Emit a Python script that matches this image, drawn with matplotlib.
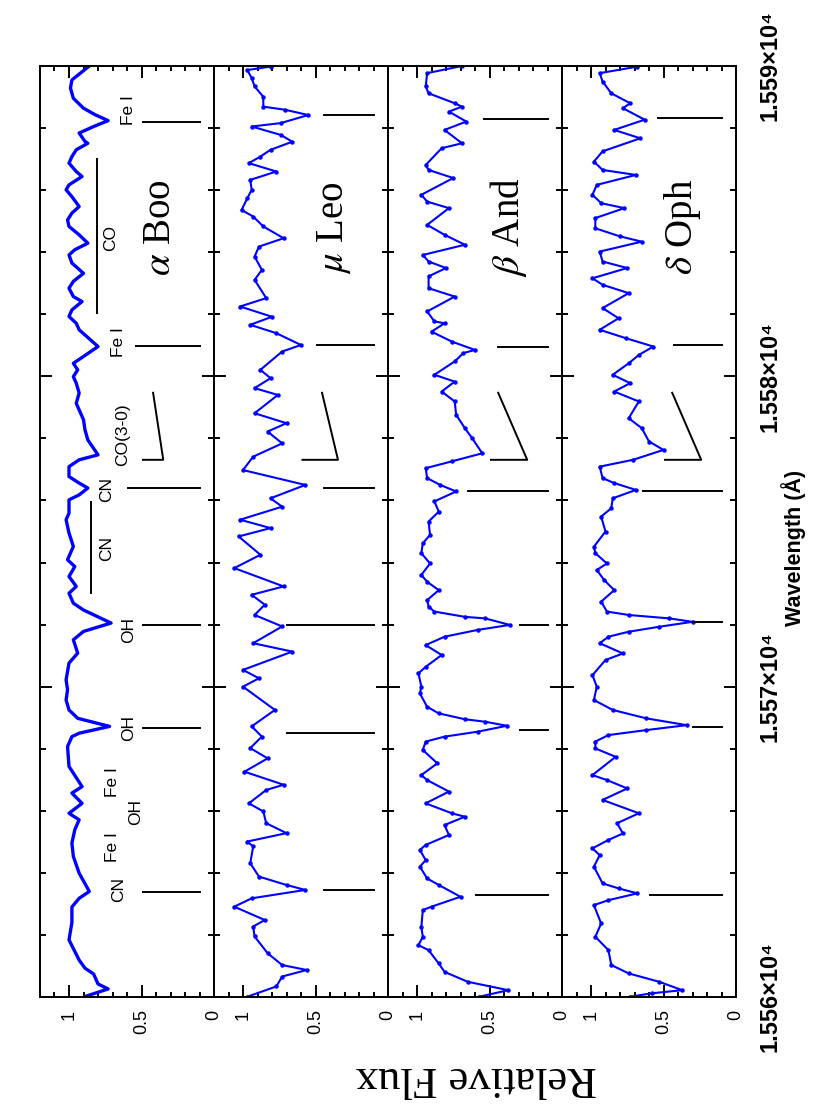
import numpy as np
import matplotlib
matplotlib.use("Agg")
import matplotlib.pyplot as plt
from matplotlib.ticker import MultipleLocator

plt.rcParams['font.family'] = ['Liberation Sans', 'DejaVu Sans']
plt.rcParams['mathtext.fontset'] = 'stix'

star_names = [r'$\alpha$ Boo', r'$\mu$ Leo', r'$\beta$ And', r'$\delta$ Oph']

# spectra (wavelength in Angstrom, relative flux)
boo_wl = [15590.00, 15589.55, 15589.29, 15588.96, 15588.64, 15588.43, 15588.24, 15588.05, 15587.84, 15587.57,
          15587.51, 15587.30, 15587.08, 15586.87, 15586.60, 15586.44, 15586.17, 15586.01, 15585.79, 15585.47,
          15585.26, 15585.04, 15584.83, 15584.56, 15584.29, 15584.08, 15583.91, 15583.65, 15583.32, 15583.06,
          15582.84, 15582.57, 15582.41, 15582.14, 15581.93, 15581.71, 15581.50, 15580.96, 15580.64, 15580.42,
          15580.21, 15579.99, 15579.78, 15579.46, 15579.13, 15578.92, 15578.60, 15578.28, 15577.95, 15577.47,
          15577.31, 15577.09, 15576.77, 15576.56, 15576.40, 15576.18, 15576.02, 15575.59, 15575.38, 15574.95,
          15574.52, 15574.09, 15573.87, 15573.55, 15573.23, 15573.01, 15572.69, 15572.47, 15572.05, 15571.78,
          15571.51, 15571.08, 15570.76, 15570.22, 15569.90, 15569.57, 15569.25, 15568.98, 15568.72, 15568.50,
          15568.39, 15568.07, 15567.43, 15566.78, 15566.57, 15566.24, 15565.92, 15565.71, 15565.39, 15564.96,
          15564.53, 15563.99, 15563.40, 15563.18, 15562.90, 15562.40, 15561.84, 15561.19, 15560.93, 15560.74,
          15560.42, 15560.26, 15560.03]
boo_flux = [0.86, 0.98, 0.99, 0.97, 0.90, 0.82, 0.73, 0.83, 0.93, 0.89,
            0.87, 0.95, 0.98, 1.00, 0.95, 0.91, 1.00, 1.02, 0.98, 0.93,
            0.98, 1.01, 1.00, 0.93, 0.87, 0.96, 1.00, 0.98, 0.90, 0.97,
            1.00, 0.97, 0.91, 0.98, 1.00, 0.95, 0.93, 0.80, 0.90, 0.97,
            0.94, 0.97, 0.95, 0.93, 0.95, 0.93, 0.90, 0.89, 0.87, 0.80,
            0.93, 1.00, 1.00, 0.93, 0.87, 0.93, 1.00, 1.00, 1.02, 1.00,
            0.97, 1.01, 0.96, 1.00, 0.95, 1.00, 0.97, 0.90, 0.71, 0.90,
            0.97, 0.94, 1.00, 1.02, 1.01, 1.02, 1.00, 0.94, 0.72, 0.93,
            0.98, 1.01, 1.00, 0.91, 0.98, 0.91, 1.00, 0.93, 0.96, 0.98,
            0.97, 0.93, 0.86, 0.93, 0.98, 0.98, 1.00, 0.93, 0.89, 0.83,
            0.80, 0.73, 0.88]

leo_wl = [15589.98, 15589.87, 15589.61, 15589.34, 15589.01, 15588.69, 15588.59, 15588.42, 15588.16, 15588.05,
          15587.78, 15587.56, 15587.30, 15587.08, 15586.87, 15586.60, 15586.33, 15586.01, 15585.74, 15585.36,
          15585.15, 15584.83, 15584.45, 15584.18, 15583.86, 15583.43, 15583.11, 15582.52, 15582.25, 15581.92,
          15581.66, 15581.39, 15581.01, 15580.80, 15580.21, 15579.94, 15579.62, 15579.40, 15578.81, 15578.49,
          15578.22, 15577.84, 15577.41, 15576.98, 15576.50, 15576.07, 15575.80, 15575.38, 15575.11, 15574.84,
          15574.25, 15573.82, 15573.23, 15572.96, 15572.64, 15572.31, 15571.94, 15571.40, 15571.13, 15570.54,
          15570.27, 15570.00, 15569.25, 15568.72, 15568.39, 15568.02, 15567.69, 15567.26, 15566.84, 15566.67,
          15566.24, 15565.98, 15565.60, 15565.28, 15565.01, 15564.85, 15564.31, 15563.88, 15563.61, 15563.45,
          15563.18, 15562.91, 15562.48, 15562.27, 15561.95, 15561.41, 15561.03, 15560.87, 15560.66, 15560.34,
          15560.01]
leo_flux = [0.81, 0.97, 0.94, 0.92, 0.86, 0.86, 0.71, 0.55, 0.74, 0.94,
            0.74, 0.66, 0.81, 0.88, 0.96, 0.77, 0.95, 0.94, 0.97, 1.01,
            0.93, 0.86, 0.72, 0.89, 0.92, 0.87, 0.92, 0.84, 1.02, 0.80,
            0.95, 0.77, 0.60, 0.73, 0.88, 0.81, 0.92, 0.76, 0.92, 0.70,
            0.83, 0.73, 0.93, 1.00, 0.57, 0.81, 0.73, 1.02, 0.81, 1.03,
            0.88, 1.06, 0.72, 0.94, 0.85, 0.92, 0.73, 0.93, 0.66, 1.00,
            0.89, 1.00, 0.78, 0.94, 0.87, 0.95, 0.83, 0.99, 0.72, 0.84,
            0.96, 0.86, 0.84, 0.70, 0.97, 0.93, 0.95, 0.89, 0.70, 0.57,
            0.94, 1.06, 0.85, 0.93, 0.92, 0.83, 0.73, 0.56, 0.73, 0.77,
            0.97]

and_wl = [15590.00, 15589.77, 15589.34, 15589.12, 15588.80, 15588.69, 15588.53, 15588.21, 15587.94, 15587.51,
          15587.35, 15586.81, 15586.65, 15586.39, 15585.85, 15585.63, 15585.42, 15584.88, 15584.56, 15584.24,
          15583.91, 15583.70, 15583.49, 15583.22, 15582.84, 15582.57, 15582.09, 15581.77, 15581.71, 15581.44,
          15581.12, 15580.85, 15580.75, 15580.48, 15580.05, 15579.83, 15579.51, 15579.19, 15578.76, 15578.33,
          15578.01, 15577.52, 15577.26, 15577.04, 15576.72, 15576.50, 15576.29, 15575.97, 15575.64, 15575.32,
          15574.89, 15574.62, 15574.30, 15573.97, 15573.60, 15573.38, 15573.11, 15572.79, 15572.58, 15572.42,
          15572.25, 15572.20, 15571.99, 15571.83, 15571.61, 15571.34, 15571.02, 15570.64, 15570.43, 15570.00,
          15569.78, 15569.35, 15569.14, 15568.95, 15568.87, 15568.74, 15568.55, 15568.39, 15568.23, 15567.96,
          15567.53, 15567.15, 15566.99, 15566.62, 15566.24, 15565.92, 15565.81, 15565.54, 15565.22, 15564.90,
          15564.74, 15564.41, 15564.20, 15563.82, 15563.61, 15563.23, 15562.91, 15562.80, 15562.26, 15561.94,
          15561.67, 15561.51, 15561.08, 15560.81, 15560.49, 15560.22, 15560.01]
and_flux = [0.69, 0.93, 0.94, 0.92, 0.74, 0.69, 0.78, 0.66, 0.81, 0.69,
            0.83, 0.94, 0.92, 0.75, 0.97, 0.93, 0.78, 0.93, 0.81, 0.67,
            0.96, 0.92, 0.80, 0.92, 0.92, 0.74, 0.93, 0.88, 0.81, 0.90,
            0.76, 0.60, 0.68, 0.74, 0.88, 0.74, 0.83, 0.74, 0.73, 0.67,
            0.62, 0.55, 0.76, 0.94, 0.93, 0.84, 0.73, 0.88, 0.85, 0.92,
            0.91, 0.96, 0.97, 0.91, 0.97, 0.93, 0.85, 0.93, 0.92, 0.88,
            0.67, 0.53, 0.36, 0.58, 0.81, 0.94, 0.83, 0.94, 0.99, 0.97,
            0.98, 0.93, 0.85, 0.67, 0.53, 0.38, 0.58, 0.81, 0.94, 0.96,
            0.86, 0.97, 0.93, 0.78, 0.94, 0.76, 0.67, 0.81, 0.78, 0.94,
            0.98, 0.94, 0.98, 0.93, 0.85, 0.70, 0.90, 0.96, 0.97, 0.96,
            0.99, 0.92, 0.85, 0.81, 0.65, 0.37, 0.57]

oph_wl = [15589.98, 15589.77, 15589.50, 15589.12, 15588.80, 15588.64, 15588.27, 15587.94, 15587.67, 15587.25,
          15586.92, 15586.65, 15586.49, 15586.17, 15585.85, 15585.58, 15585.42, 15585.10, 15584.77, 15584.51,
          15584.34, 15584.02, 15583.70, 15583.49, 15583.16, 15582.95, 15582.68, 15582.20, 15581.87, 15581.50,
          15581.23, 15580.96, 15580.69, 15580.42, 15580.05, 15579.78, 15579.51, 15579.19, 15578.65, 15578.33,
          15577.90, 15577.63, 15577.31, 15577.09, 15576.72, 15576.56, 15576.34, 15576.07, 15575.75, 15575.48,
          15575.00, 15574.51, 15574.30, 15573.97, 15573.76, 15573.44, 15573.11, 15572.74, 15572.42, 15572.31,
          15572.20, 15572.09, 15571.93, 15571.77, 15571.61, 15571.40, 15571.07, 15570.86, 15570.37, 15570.00,
          15569.57, 15569.25, 15568.98, 15568.76, 15568.60, 15568.44, 15568.23, 15568.01, 15567.74, 15567.15,
          15566.99, 15566.72, 15566.35, 15565.92, 15565.60, 15565.27, 15565.06, 15564.79, 15564.57, 15564.20,
          15563.66, 15563.50, 15563.34, 15563.12, 15562.96, 15562.37, 15561.94, 15561.51, 15561.03, 15560.76,
          15560.49, 15560.22, 15560.12, 15560.01]
oph_flux = [0.68, 0.94, 0.92, 0.86, 0.73, 0.78, 0.63, 0.84, 0.66, 0.92,
            0.98, 0.92, 0.69, 0.96, 0.99, 0.93, 0.77, 0.97, 0.97, 0.80,
            0.65, 0.94, 0.92, 0.75, 0.99, 0.92, 0.74, 0.92, 0.81, 0.94,
            0.76, 0.57, 0.67, 0.74, 0.85, 0.73, 0.84, 0.67, 0.74, 0.65,
            0.60, 0.50, 0.71, 0.94, 0.92, 0.84, 0.69, 0.85, 0.86, 0.93,
            0.90, 0.98, 0.97, 0.89, 0.96, 0.91, 0.84, 0.93, 0.89, 0.74,
            0.46, 0.30, 0.53, 0.74, 0.88, 0.94, 0.78, 0.90, 0.99, 0.96,
            0.98, 0.85, 0.62, 0.34, 0.62, 0.88, 0.97, 0.97, 0.83, 0.99,
            0.89, 0.75, 0.92, 0.67, 0.82, 0.78, 0.88, 0.99, 0.94, 0.98,
            0.92, 0.81, 0.68, 0.88, 0.98, 0.93, 0.97, 0.88, 0.86, 0.74,
            0.53, 0.37, 0.58, 0.73]

# line identification ticks: wavelength and flux where each tick starts (all run to flux 0.1)
mark_end = 0.1
boo_mark_wl = [15588.20, 15580.98, 15576.40, 15571.99, 15568.67, 15563.38]
boo_mark_top = [0.49, 0.54, 0.59, 0.49, 0.49, 0.49]
leo_mark_wl = [15588.42, 15581.01, 15576.40, 15571.99, 15568.51, 15563.45]
leo_mark_top = [0.44, 0.49, 0.44, 0.70, 0.70, 0.44]
and_mark_wl = [15588.30, 15580.95, 15576.31, 15571.99, 15568.60, 15563.29]
and_mark_top = [0.54, 0.44, 0.65, 0.29, 0.29, 0.59]
oph_mark_wl = [15588.33, 15581.01, 15576.31, 15572.09, 15568.70, 15563.29]
oph_mark_top = [0.54, 0.43, 0.64, 0.30, 0.30, 0.59]

# CO(3-0) bandhead hook
head_wl = [15579.47, 15577.31, 15577.31]
boo_head_flux = [0.42, 0.35, 0.49]
leo_head_flux = [0.455, 0.345, 0.59]
and_head_flux = [0.44, 0.24, 0.49]
oph_head_flux = [0.44, 0.24, 0.49]

# labels in the alpha Boo panel
feature_names = ['Fe I', 'CO', 'Fe I', 'CO(3-0)', 'CN', 'CN', 'OH', 'OH', 'Fe I', 'OH', 'Fe I', 'CN']
feature_wl = [15588.59, 15584.46, 15581.11, 15578.11, 15576.34, 15574.44, 15571.83, 15568.67,
              15566.93, 15565.96, 15564.83, 15563.45]
feature_flux = [0.59, 0.71, 0.66, 0.63, 0.74, 0.74, 0.59, 0.59, 0.70, 0.54, 0.70, 0.66]

# band extent bars (CO, CN)
band_flux = [0.81, 0.85]
band_lo = [15582.04, 15573.02]
band_hi = [15587.01, 15575.95]

spectra = [(boo_wl, boo_flux), (leo_wl, leo_flux), (and_wl, and_flux), (oph_wl, oph_flux)]
marks = [(boo_mark_wl, boo_mark_top), (leo_mark_wl, leo_mark_top),
         (and_mark_wl, and_mark_top), (oph_mark_wl, oph_mark_top)]
hooks = [boo_head_flux, leo_head_flux, and_head_flux, oph_head_flux]

W, H = 830, 1111
fig = plt.figure(figsize=(W / 100, H / 100), dpi=100)

lefts = [40, 214, 388, 562]
pw = 174
y0, y1 = 66, 997

for i in range(4):
    ax = fig.add_axes([lefts[i] / W, (H - y1) / H, pw / W, (y1 - y0) / H])
    wl, fl = spectra[i]
    if i == 0:
        ax.plot(fl, wl, '-', color='#0000ff', lw=2.4, solid_joinstyle='round')
    else:
        ax.plot(fl, wl, '-', color='#0000ff', lw=1.5, marker='o', ms=2.2, solid_joinstyle='round')

    mw, mt = marks[i]
    for w, t in zip(mw, mt):
        ax.plot([t, mark_end], [w, w], '-', color='k', lw=1.4)
    ax.plot(hooks[i], head_wl, '-', color='k', lw=1.4)

    ax.text(0.37, 15584.8, star_names[i], rotation=90, ha='center', va='center',
            family=['Liberation Serif', 'DejaVu Serif'], fontsize=28)

    ax.set_xlim(1.2, 0)
    ax.set_ylim(15560, 15590)
    ax.set_xticks([0, 0.5, 1], labels=['0', '0.5', '1'], rotation=90, fontsize=13)
    ax.xaxis.set_minor_locator(MultipleLocator(0.1))
    ax.yaxis.set_major_locator(MultipleLocator(10))
    ax.yaxis.set_minor_locator(MultipleLocator(2))
    ax.tick_params(which='both', direction='in', top=True, bottom=True, left=True, right=True,
                   width=1.4, labelleft=False)
    ax.tick_params(axis='x', which='major', length=8.5, pad=9)
    ax.tick_params(axis='x', which='minor', length=3.6)
    ax.tick_params(axis='y', which='major', length=8.5)
    ax.tick_params(axis='y', which='minor', length=4.3)
    for s in ax.spines.values():
        s.set_linewidth(1.4)

    if i == 0:
        for name, w, f in zip(feature_names, feature_wl, feature_flux):
            ax.text(f, w, name, rotation=90, ha='center', va='center', fontsize=12.5)
        for f, lo, hi in zip(band_flux, band_lo, band_hi):
            ax.plot([f, f], [lo, hi], '-', color='k', lw=1.4)
    if i == 3:
        yt = [15560, 15570, 15580, 15590]
        ax.set_yticks(yt, labels=['%.3f\u00d710\u2074' % (v / 1e4) for v in yt],
                      rotation=90, va='center', ha='left', fontsize=17, fontweight='bold')
        ax.tick_params(axis='y', labelright=True, pad=16)

fig.text(794 / W, 1 - 548 / H, 'Wavelength (\u00c5)', rotation=90, ha='center', va='center',
         fontsize=15.5, fontweight='bold')
fig.text(476 / W, 1 - 1078 / H, 'Relative Flux', rotation=180, ha='center', va='center',
         family=['Liberation Serif', 'DejaVu Serif'], fontsize=32)

fig.savefig('out.png', dpi=100)
